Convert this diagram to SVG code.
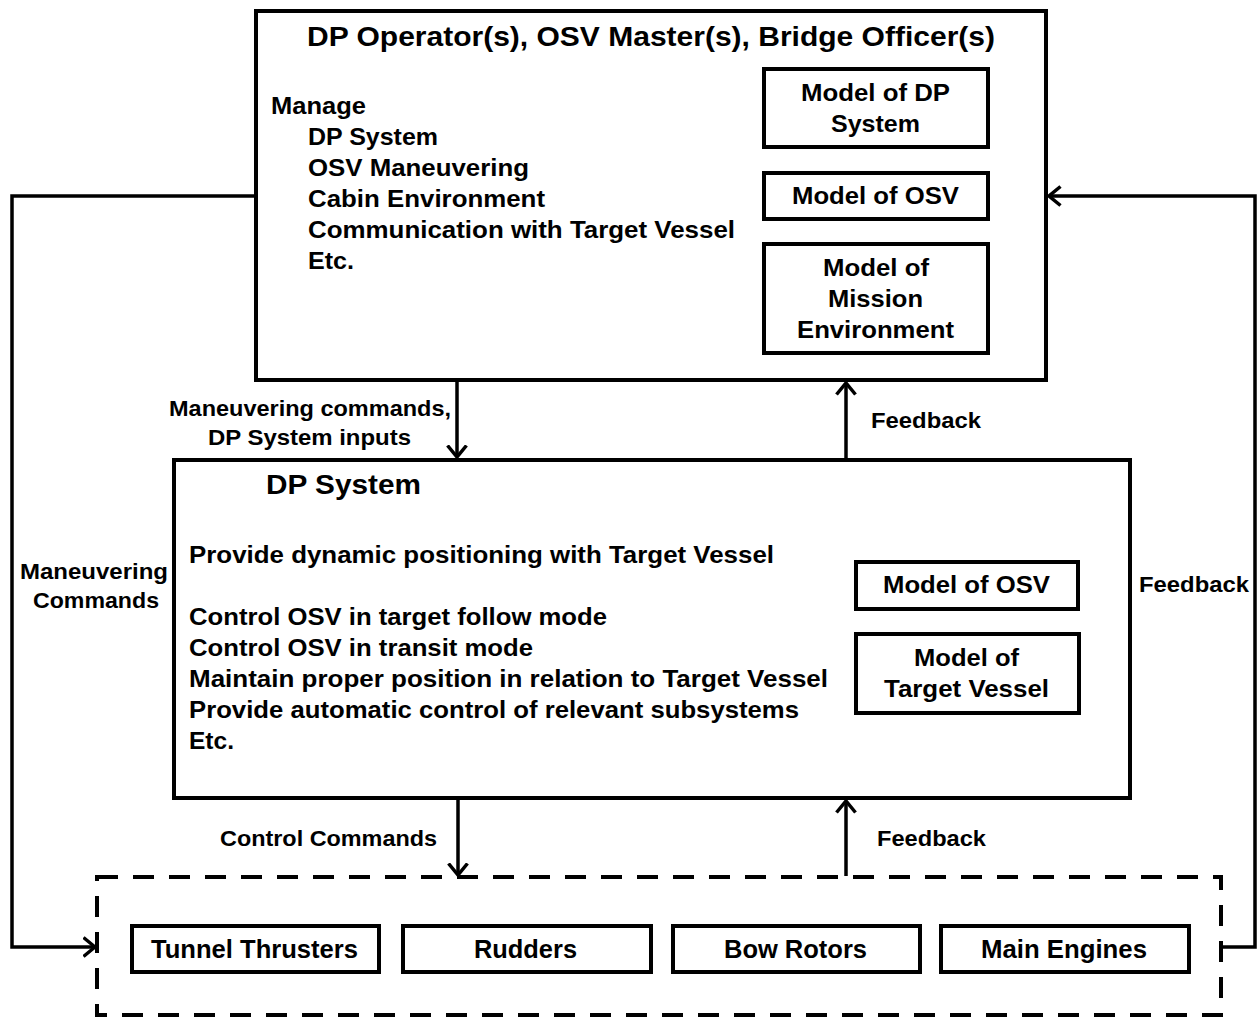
<svg xmlns="http://www.w3.org/2000/svg" width="1257" height="1018" viewBox="0 0 1257 1018">
<style>
text{font-family:"Liberation Sans",Arial,sans-serif;font-weight:bold;fill:#000}
.box{fill:#fff;stroke:#000;stroke-width:4}
.inner{fill:#fff;stroke:#000;stroke-width:4}
.dash{fill:none;stroke:#000;stroke-width:4;stroke-dasharray:21 15}
.conn{fill:none;stroke:#000;stroke-width:3.5}
.t27{font-size:27px}
.t25{font-size:25px}
.t24{font-size:24.5px}
.t22{font-size:22px}
.mid{text-anchor:middle}
</style>
<defs>
<marker id="arr" markerUnits="userSpaceOnUse" viewBox="0 0 14 22" refX="12.5" refY="11" markerWidth="14" markerHeight="22" orient="auto">
<path d="M1,1.5 L12.5,11 L1,20.5" fill="none" stroke="#000" stroke-width="3.5"/>
</marker>
</defs>

<g id="operators">
<rect class="box" x="256" y="11" width="790" height="369"/>
<text class="t27" x="307" y="46" textLength="688" lengthAdjust="spacingAndGlyphs">DP Operator(s), OSV Master(s), Bridge Officer(s)</text>
<text class="t24" x="271" y="114" textLength="95" lengthAdjust="spacingAndGlyphs">Manage</text>
<text class="t24" x="308" y="145" textLength="130" lengthAdjust="spacingAndGlyphs">DP System</text>
<text class="t24" x="308" y="176" textLength="221" lengthAdjust="spacingAndGlyphs">OSV Maneuvering</text>
<text class="t24" x="308" y="207" textLength="237" lengthAdjust="spacingAndGlyphs">Cabin Environment</text>
<text class="t24" x="308" y="238" textLength="427" lengthAdjust="spacingAndGlyphs">Communication with Target Vessel</text>
<text class="t24" x="308" y="269" textLength="46" lengthAdjust="spacingAndGlyphs">Etc.</text>
</g>
<g id="op-model-dp">
<rect class="inner" x="764" y="69" width="224" height="78"/>
<text class="t24" x="801" y="101" textLength="149" lengthAdjust="spacingAndGlyphs">Model of DP</text>
<text class="t24" x="831" y="132" textLength="89" lengthAdjust="spacingAndGlyphs">System</text>
</g>
<g id="op-model-osv">
<rect class="inner" x="764" y="173" width="224" height="46"/>
<text class="t24" x="792" y="204" textLength="167" lengthAdjust="spacingAndGlyphs">Model of OSV</text>
</g>
<g id="op-model-mission">
<rect class="inner" x="764" y="244" width="224" height="109"/>
<text class="t24" x="823" y="276" textLength="106" lengthAdjust="spacingAndGlyphs">Model of</text>
<text class="t24" x="828" y="307" textLength="95" lengthAdjust="spacingAndGlyphs">Mission</text>
<text class="t24" x="797" y="338" textLength="157" lengthAdjust="spacingAndGlyphs">Environment</text>
</g>

<g id="dp-system">
<rect class="box" x="174" y="460" width="956" height="338"/>
<text class="t27" x="266" y="494" textLength="155" lengthAdjust="spacingAndGlyphs">DP System</text>
<text class="t24" x="189" y="563" textLength="585" lengthAdjust="spacingAndGlyphs">Provide dynamic positioning with Target Vessel</text>
<text class="t24" x="189" y="625" textLength="418" lengthAdjust="spacingAndGlyphs">Control OSV in target follow mode</text>
<text class="t24" x="189" y="656" textLength="344" lengthAdjust="spacingAndGlyphs">Control OSV in transit mode</text>
<text class="t24" x="189" y="687" textLength="639" lengthAdjust="spacingAndGlyphs">Maintain proper position in relation to Target Vessel</text>
<text class="t24" x="189" y="718" textLength="610" lengthAdjust="spacingAndGlyphs">Provide automatic control of relevant subsystems</text>
<text class="t24" x="189" y="749" textLength="45" lengthAdjust="spacingAndGlyphs">Etc.</text>
</g>
<g id="dp-model-osv">
<rect class="inner" x="856" y="562" width="222" height="47"/>
<text class="t24" x="883" y="593" textLength="167" lengthAdjust="spacingAndGlyphs">Model of OSV</text>
</g>
<g id="dp-model-target">
<rect class="inner" x="856" y="634" width="223" height="79"/>
<text class="t24" x="914" y="666" textLength="105" lengthAdjust="spacingAndGlyphs">Model of</text>
<text class="t24" x="884" y="697" textLength="165" lengthAdjust="spacingAndGlyphs">Target Vessel</text>
</g>

<g id="actuators">
<rect class="dash" x="97" y="877" width="1124" height="138"/>
</g>
<g id="tunnel-thrusters">
<rect class="inner" x="132" y="926" width="247" height="46"/>
<text class="t25" x="151" y="958" textLength="207" lengthAdjust="spacingAndGlyphs">Tunnel Thrusters</text>
</g>
<g id="rudders">
<rect class="inner" x="403" y="926" width="248" height="46"/>
<text class="t25" x="474" y="958" textLength="103" lengthAdjust="spacingAndGlyphs">Rudders</text>
</g>
<g id="bow-rotors">
<rect class="inner" x="673" y="926" width="247" height="46"/>
<text class="t25" x="724" y="958" textLength="143" lengthAdjust="spacingAndGlyphs">Bow Rotors</text>
</g>
<g id="main-engines">
<rect class="inner" x="941" y="926" width="248" height="46"/>
<text class="t25" x="981" y="958" textLength="166" lengthAdjust="spacingAndGlyphs">Main Engines</text>
</g>

<g id="connectors">
<path class="conn" d="M457,382 V457" marker-end="url(#arr)"/>
<path class="conn" d="M846,458 V383" marker-end="url(#arr)"/>
<path class="conn" d="M458,800 V875" marker-end="url(#arr)"/>
<path class="conn" d="M846,876 V801" marker-end="url(#arr)"/>
<path class="conn" d="M254,196 H12 V947 H95" marker-end="url(#arr)"/>
<path class="conn" d="M1221,947 H1255 V196 H1049" marker-end="url(#arr)"/>
<text class="t22" x="169" y="416" textLength="282" lengthAdjust="spacingAndGlyphs">Maneuvering commands,</text>
<text class="t22" x="208" y="445" textLength="203" lengthAdjust="spacingAndGlyphs">DP System inputs</text>
<text class="t22" x="871" y="428" textLength="110" lengthAdjust="spacingAndGlyphs">Feedback</text>
<text class="t22" x="20" y="579" textLength="148" lengthAdjust="spacingAndGlyphs">Maneuvering</text>
<text class="t22" x="33" y="608" textLength="126" lengthAdjust="spacingAndGlyphs">Commands</text>
<text class="t22" x="1139" y="592" textLength="110" lengthAdjust="spacingAndGlyphs">Feedback</text>
<text class="t22" x="220" y="846" textLength="217" lengthAdjust="spacingAndGlyphs">Control Commands</text>
<text class="t22" x="877" y="846" textLength="109" lengthAdjust="spacingAndGlyphs">Feedback</text>
</g>
</svg>
